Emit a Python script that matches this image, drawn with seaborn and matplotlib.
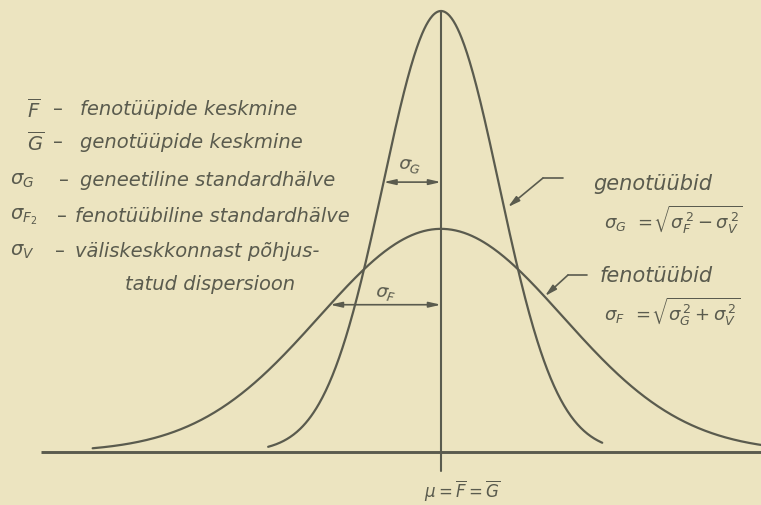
import numpy as np
import pandas as pd
import matplotlib
matplotlib.use("Agg")
import matplotlib.pyplot as plt
import seaborn as sns

# ---- curve parameters (x in units of the genetic SD, y relative frequency) ----
mean = 0.0
sigma_g = 1.0                      # genetic standard deviation
sigma_f = 2.1                      # phenotypic standard deviation
peak_g = 1.0                       # height of the genotype curve
peak_f = 0.506                     # height of the phenotype curve

# drawn extent of each curve, in its own standard deviations
geno_span = [-2.98, 2.78]
feno_span = [-2.86, 2.63]

# height (share of the peak) at which each SD arrow is drawn
arrow_level_g = 0.612
arrow_level_f = 0.66

# legend rows: symbol, explanation
legend_symbols = [r"$\overline{F}$", r"$\overline{G}$", r"$\sigma_G$",
                  r"$\sigma_{F_2}$", r"$\sigma_V$", ""]
legend_texts = ["fenotüüpide keskmine", "genotüüpide keskmine",
                "geneetiline standardhälve", "fenotüübiline standardhälve",
                "väliskeskkonnast põhjus-", "tatud dispersioon"]

geno_label = "genotüübid"
feno_label = "fenotüübid"
geno_formula = r"$\sigma_G\ \,=\!\sqrt{\sigma_F^{\,2}-\sigma_V^{\,2}}$"
feno_formula = r"$\sigma_F\ \,=\!\sqrt{\sigma_G^{\,2}+\sigma_V^{\,2}}$"
axis_label = r"$\mu=\overline{F}=\overline{G}$"


def bell(x, mu, s, h):
    return h * np.exp(-0.5 * ((x - mu) / s) ** 2)


def curve(mu, s, h, span):
    x = np.linspace(mu + span[0] * s, mu + span[1] * s, 500)
    return pd.DataFrame({"x": x, "y": bell(x, mu, s, h)})


geno = curve(mean, sigma_g, peak_g, geno_span)
feno = curve(mean, sigma_f, peak_f, feno_span)

# ---- style ----
sns.set_style("white")
BG = "#ece4c0"
INK = "#5a5b4e"
FONT = ["DejaVu Sans"]
plt.rcParams["font.family"] = FONT
plt.rcParams["mathtext.fontset"] = "dejavusans"

W, H = 761, 506
fig = plt.figure(figsize=(W / 100, H / 100), dpi=100)
fig.patch.set_facecolor(BG)
ax = fig.add_axes([0, 0, 1, 1])
ax.set_facecolor(BG)
ax.axis("off")

px_per_x = 58.0
px_per_y = 441.0 / peak_g
ax.set_xlim(mean - 441 / px_per_x, mean + 320 / px_per_x)
ax.set_ylim(-53 / px_per_y, 453 / px_per_y)

# curves
sns.lineplot(data=geno, x="x", y="y", ax=ax, color=INK, lw=1.6, sort=False)
sns.lineplot(data=feno, x="x", y="y", ax=ax, color=INK, lw=1.6, sort=False)

# baseline and centre line
ax.plot([mean - 400 / px_per_x, mean + 330 / px_per_x], [0, 0],
        color=INK, lw=2.1, solid_capstyle="butt")
ax.plot([mean, mean], [-19 / px_per_y, peak_g], color=INK, lw=1.5)

# standard deviation arrows, ending on the curves
arrow_kw = dict(arrowstyle="<|-|>,head_length=0.7,head_width=0.16",
                color=INK, lw=1.2, shrinkA=0, shrinkB=0)


def sd_arrow(s, h, level):
    y = h * level
    x = mean - s * np.sqrt(-2 * np.log(level))
    ax.annotate("", xy=(x, y), xytext=(mean, y), arrowprops=arrow_kw)
    return x, y


xg, yg = sd_arrow(sigma_g, peak_g, arrow_level_g)
xf, yf = sd_arrow(sigma_f, peak_f, arrow_level_f)

ax.text(mean - 0.55, yg + 7 / px_per_y, r"$\sigma_G$", color=INK,
        fontsize=13, ha="center", va="bottom", rotation=-8)
ax.text(mean - 0.95, yf + 2 / px_per_y, r"$\sigma_F$", color=INK,
        fontsize=13, ha="center", va="bottom", rotation=-8)


def fp(px, py):
    """figure-pixel position measured from the top-left corner"""
    return (px, H - py)


# legend block
row_y = [110, 143, 181, 217, 252, 285]
sym_x = [27, 27, 10, 10, 10, None]
dash_x = [53, 53, 59, 57, 55, None]
text_x = [80, 80, 80, 75, 75, 125]
for sym, txt, y, sx, dx, tx in zip(legend_symbols, legend_texts, row_y,
                                   sym_x, dash_x, text_x):
    if sym:
        ax.annotate(sym, xy=fp(sx, y), xycoords="figure pixels", color=INK,
                    fontsize=14, ha="left", va="center")
        ax.annotate("–", xy=fp(dx, y), xycoords="figure pixels", color=INK,
                    fontsize=14, ha="left", va="center")
    ax.annotate(txt, xy=fp(tx, y), xycoords="figure pixels", color=INK,
                fontsize=14, ha="left", va="center", style="italic")

# right-hand labels with leader arrows
ax.annotate(geno_label, xy=fp(593, 184), xycoords="figure pixels", color=INK,
            fontsize=15, ha="left", va="center", style="italic")
ax.annotate(geno_formula, xy=fp(604, 220), xycoords="figure pixels",
            color=INK, fontsize=13, ha="left", va="center")
ax.annotate(feno_label, xy=fp(600, 276), xycoords="figure pixels", color=INK,
            fontsize=15, ha="left", va="center", style="italic")
ax.annotate(feno_formula, xy=fp(604, 312), xycoords="figure pixels",
            color=INK, fontsize=13, ha="left", va="center")

lead_kw = dict(arrowstyle="-|>,head_length=0.7,head_width=0.18", color=INK,
               lw=1.2, shrinkA=0, shrinkB=0)
for (x0, y0), (x1, y1), (x2, y2) in [((563, 179), (543, 179), (508, 208)),
                                     ((587, 276), (568, 276), (545, 297))]:
    ax.plot([x0, x1], [H - y0, H - y1], color=INK, lw=1.2,
            transform=None)
    ax.annotate("", xy=fp(x2, y2), xytext=fp(x1, y1), xycoords="figure pixels",
                textcoords="figure pixels", arrowprops=lead_kw)

ax.annotate(axis_label, xy=fp(462, 491), xycoords="figure pixels", color=INK,
            fontsize=12, ha="center", va="center")

fig.savefig("out.png", dpi=100, facecolor=BG)
